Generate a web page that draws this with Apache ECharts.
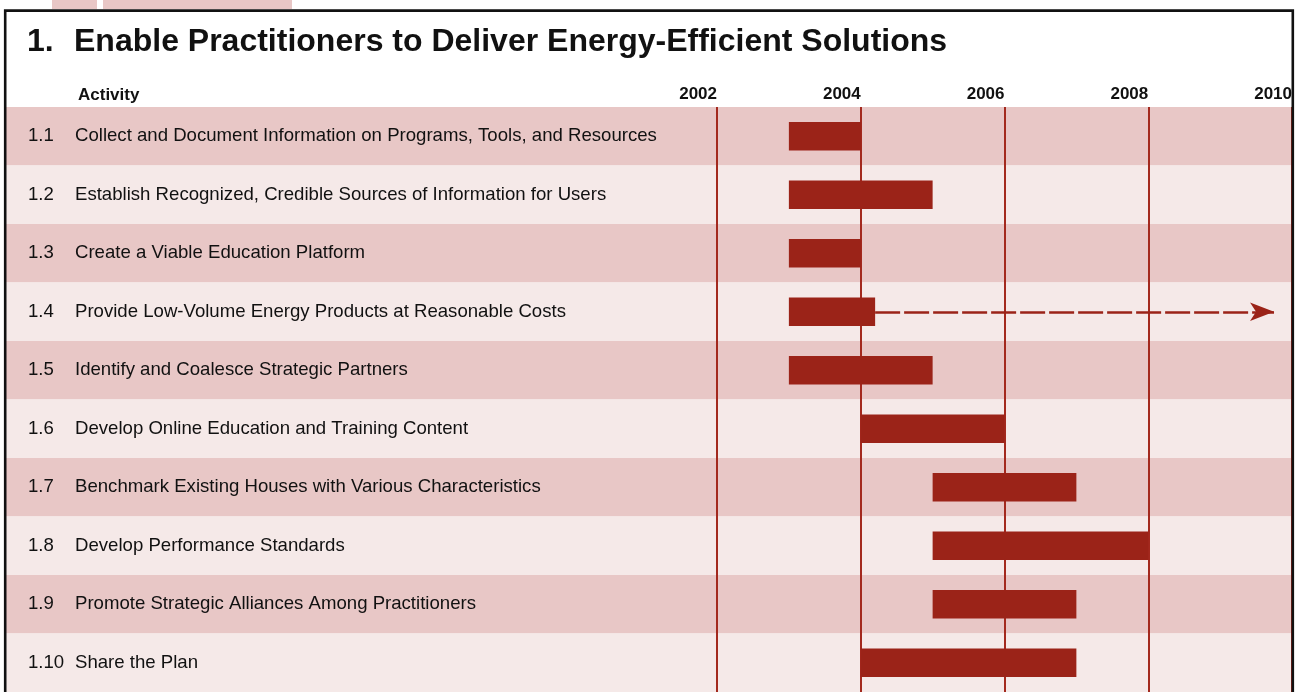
<!DOCTYPE html>
<html>
<head>
<meta charset="utf-8">
<title>Enable Practitioners to Deliver Energy-Efficient Solutions</title>
<script src="https://cdn.jsdelivr.net/npm/echarts@6/dist/echarts.min.js"></script>
<style>
html, body { margin: 0; padding: 0; background: #fff; }
#main { width: 1295px; height: 692px; }
</style>
</head>
<body>
<div id="main"></div>
<script>
// activities (rows, top to bottom)
var activityIds = ['1.1', '1.2', '1.3', '1.4', '1.5', '1.6', '1.7', '1.8', '1.9', '1.10'];
var activityNames = [
	'Collect and Document Information on Programs, Tools, and Resources',
	'Establish Recognized, Credible Sources of Information for Users',
	'Create a Viable Education Platform',
	'Provide Low-Volume Energy Products at Reasonable Costs',
	'Identify and Coalesce Strategic Partners',
	'Develop Online Education and Training Content',
	'Benchmark Existing Houses with Various Characteristics',
	'Develop Performance Standards',
	'Promote Strategic Alliances Among Practitioners',
	'Share the Plan'
];
// bar start / end, in years
var startYears = [2003, 2003, 2003, 2003, 2003, 2004, 2005, 2005, 2005, 2004];
var endYears = [2004, 2005, 2004, 2004.2, 2005, 2006, 2007, 2008, 2007, 2007];
// the ongoing (dashed arrow) part of 1.4
var ongoingRow = 3;
var ongoingFrom = 2004.2;
var ongoingTo = 2009.75;
// year axis
var yearMin = 2002;
var yearMax = 2010;
var yearStep = 2;

var BAR_RED = '#9b2318';
var LINE_RED = '#a3291e';
var BAND_DARK = '#e8c7c6';
var BAND_LIGHT = '#f5e9e8';
var LABEL_FONT = '"Liberation Sans", Arial, sans-serif';

function buildBarData(){
	var list = [];
	for (var i = 0; i < activityIds.length; i++) {
		list.push([i, startYears[i], endYears[i]]);
	}
	return list;
}

// draw one bar through the axes
function renderBar(params, api){
	var row = api.value(0);
	var a = api.coord([api.value(1), row]);
	var b = api.coord([api.value(2), row]);
	var h = api.size([0, 1])[1] * 0.49;
	return {
		type: 'rect',
		shape: { x: a[0], y: a[1] - h / 2, width: b[0] - a[0], height: h },
		style: { fill: BAR_RED }
	};
}

var myChart = echarts.init(document.getElementById('main'));

var option = {
	backgroundColor: '#fff',
	animation: false,
	grid: [
		{ left: 4, right: 2, top: 107, height: 596 },   // background bands + labels
		{ left: 717, right: 2, top: 107, height: 596 }  // time chart
	],
	xAxis: [
		{ gridIndex: 0, type: 'value', show: false, min: 0, max: 1 },
		{
			gridIndex: 1,
			type: 'value',
			position: 'top',
			min: yearMin,
			max: yearMax,
			interval: yearStep,
			axisLine: { show: false },
			axisTick: { show: false },
			axisLabel: {
				margin: 4,
				align: 'right',
				color: '#111',
				fontWeight: 'bold',
				fontSize: 17,
				fontFamily: LABEL_FONT,
				formatter: function(v){ return String(v); }
			},
			splitLine: {
				show: true,
				showMinLine: true,
				showMaxLine: true,
				lineStyle: { color: LINE_RED, width: 2 }
			}
		}
	],
	yAxis: [
		{
			gridIndex: 0,
			type: 'category',
			inverse: true,
			data: activityIds,
			axisLine: { show: false },
			axisTick: { show: false },
			splitArea: { show: true, areaStyle: { color: [BAND_DARK, BAND_LIGHT] } },
			axisLabel: {
				inside: true,
				margin: 24,
				formatter: function(value, index){
					return '{n|' + value + '}{t|' + activityNames[index] + '}';
				},
				rich: {
					n: { width: 47, fontSize: 18.6, color: '#111', fontFamily: LABEL_FONT },
					t: { fontSize: 18.6, color: '#111', fontFamily: LABEL_FONT }
				}
			}
		},
		{
			gridIndex: 1,
			type: 'category',
			inverse: true,
			data: activityIds,
			show: false
		}
	],
	series: [
		{
			type: 'custom',
			xAxisIndex: 1,
			yAxisIndex: 1,
			renderItem: renderBar,
			encode: { x: [1, 2], y: 0 },
			data: buildBarData(),
			z: 3,
			markLine: {
				silent: true,
				symbol: ['none', 'arrow'],
				symbolSize: [14, 24],
				label: { show: false },
				lineStyle: { color: BAR_RED, width: 2.5, type: [25, 4] },
				data: [[
					{ coord: [ongoingFrom, ongoingRow] },
					{ coord: [ongoingTo, ongoingRow] }
				]]
			}
		}
	],
	graphic: [
		{ type: 'rect', shape: { x: 52, y: 0, width: 45, height: 9 }, style: { fill: BAND_DARK } },
		{ type: 'rect', shape: { x: 103, y: 0, width: 189, height: 9 }, style: { fill: BAND_DARK } },
		{
			type: 'rect', z: 100,
			shape: { x: 5.2, y: 10.6, width: 1287.6, height: 720 },
			style: { fill: 'none', stroke: '#111', lineWidth: 2.6 }
		},
		{
			type: 'text', left: 27, top: 26,
			style: { text: '1.', fill: '#111', font: 'bold 32px "Liberation Sans", Arial, sans-serif' }
		},
		{
			type: 'text', left: 74, top: 26,
			style: { text: 'Enable Practitioners to Deliver Energy-Efficient Solutions', fill: '#111', font: 'bold 32px "Liberation Sans", Arial, sans-serif' }
		},
		{
			type: 'text', left: 78, top: 87,
			style: { text: 'Activity', fill: '#111', font: 'bold 17px ' + LABEL_FONT }
		}
	]
};

myChart.setOption(option);
</script>
</body>
</html>
